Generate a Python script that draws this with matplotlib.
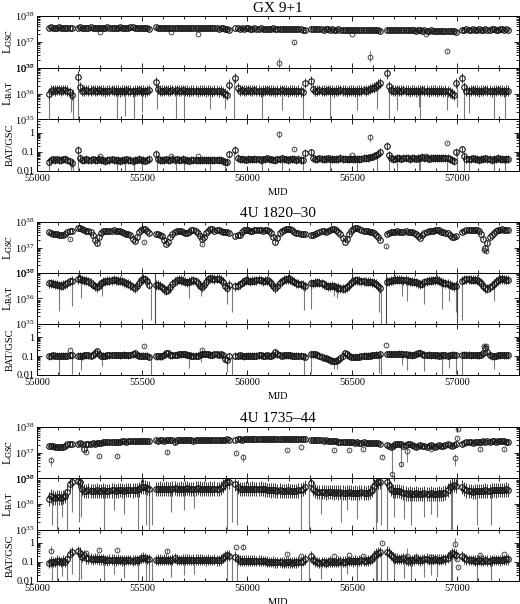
import numpy as np
import matplotlib
matplotlib.use('Agg')
import matplotlib.pyplot as plt
from matplotlib.ticker import MultipleLocator, FixedLocator, FixedFormatter, NullFormatter

plt.rcParams['font.family'] = ['Liberation Serif', 'DejaVu Serif']
plt.rcParams['mathtext.fontset'] = 'stix'

nan = np.nan

# 10-day sampling of the light curves, MJD 55055 ... 57245 (nan = Sun gap)
mjd = np.arange(55055, 57246, 10)

names = ['GX 9+1', '4U 1820\u201330', '4U 1735\u201344']

# ---- GX 9+1 : GSC in 1e37 erg/s, BAT in 1e36 erg/s
gx_gsc = [3.5, 3.6, 3.5, 3.4, 3.5, 3.6, 3.5, 3.5, 3.4, 3.5, 3.5, 3.4,
          nan, nan,
          3.5, 3.6, 3.5, 3.5, 3.4, 3.5, 3.6, 3.5, 3.5, 3.4, 3.3, 3.4, 3.5, 3.5, 3.6, 3.5, 3.5, 3.4,
          3.5, 3.5, 3.6, 3.5, 3.4, 3.5, 3.5, 3.6, 3.6, 3.5, 3.5, 3.4, 3.5, 3.5, 3.4, 3.3, 3.2,
          nan, nan,
          3.6, 3.5, 3.5, 3.4, 3.5, 3.5, 3.4, 3.5, 3.4, 3.4, 3.5, 3.4, 3.3, 3.4, 3.4, 3.5, 3.4, 3.3,
          3.4, 3.4, 3.3, 3.4, 3.4, 3.3, 3.3, 3.4, 3.3, 3.3, 3.4, 3.3, 3.2, 3.3, 3.3, 3.2, 3.1, 3.0,
          nan, nan,
          3.3, 3.3, 3.2, 3.3, 3.2, 3.3, 3.3, 3.2, 3.2, 3.3, 3.2, 3.2, 3.3, 3.2, 3.2, 3.1, 3.2,
          3.2, 3.3, 3.2, 3.2, 3.2, 3.1, 3.2, 3.2, 3.1, 3.2, 3.1, 3.1, 3.2, 3.1, 3.1, 3.0, 2.9,
          nan, nan,
          3.2, 3.1, 3.1, 3.2, 3.1, 3.1, 3.0, 3.1, 3.1, 3.0, 3.1, 3.0, 3.0, 3.1, 3.0, 3.0, 2.9,
          3.0, 3.0, 2.9, 3.0, 2.9, 2.9, 3.0, 2.9, 2.9, 2.8, 2.9, 2.9, 2.8, 2.8, 2.9, 2.8, 2.7,
          nan, nan,
          3.0, 3.0, 2.9, 3.0, 2.9, 2.9, 2.8, 2.9, 2.9, 2.8, 2.8, 2.9, 2.8, 2.8, 2.7, 2.8, 2.8,
          2.7, 2.8, 2.7, 2.7, 2.8, 2.7, 2.7, 2.6, 2.7, 2.7, 2.6, 2.7, 2.6, 2.6, 2.7, 2.6, 2.5,
          nan, nan,
          3.0, 3.0, 3.1, 3.0, 3.0, 3.1, 3.0, 3.0, 3.1, 3.0, 3.0, 3.1, 3.0, 3.0, 3.1, 3.1, 3.0,
          3.0, 3.1, 3.1, 3.0, 3.1, 3.0]
gx_bat = [1.0, 1.3, 1.4, 1.3, 1.4, 1.4, 1.3, 1.4, 1.4, 1.3, 1.1, 0.9,
          nan, nan,
          4.5, 1.8, 1.3, 1.3, 1.4, 1.3, 1.3, 1.4, 1.3, 1.3, 1.4, 1.3, 1.3, 1.2, 1.3, 1.3, 1.4, 1.3,
          1.3, 1.3, 1.2, 1.3, 1.3, 1.4, 1.3, 1.3, 1.2, 1.3, 1.3, 1.4, 1.3, 1.3, 1.2, 1.3, 1.4,
          nan, nan,
          2.8, 1.5, 1.3, 1.3, 1.3, 1.4, 1.3, 1.3, 1.4, 1.3, 1.4, 1.3, 1.3, 1.4, 1.3, 1.3, 1.2, 1.3,
          1.3, 1.3, 1.2, 1.3, 1.3, 1.3, 1.2, 1.3, 1.3, 1.2, 1.3, 1.3, 1.2, 1.3, 1.1, 1.0, 0.9, 2.2,
          nan, nan,
          4.0, 1.6, 1.3, 1.4, 1.3, 1.3, 1.4, 1.3, 1.3, 1.4, 1.3, 1.3, 1.2, 1.3, 1.3, 1.4, 1.3,
          1.3, 1.3, 1.2, 1.3, 1.3, 1.4, 1.3, 1.3, 1.2, 1.3, 1.3, 1.3, 1.2, 1.3, 1.2, 1.1, 2.5,
          nan, nan,
          3.0, 1.5, 1.3, 1.3, 1.4, 1.3, 1.3, 1.3, 1.4, 1.3, 1.3, 1.2, 1.3, 1.3, 1.4, 1.3, 1.3,
          1.2, 1.3, 1.3, 1.3, 1.2, 1.3, 1.3, 1.3, 1.4, 1.3, 1.4, 1.5, 1.6, 1.7, 1.9, 2.2, 2.6,
          nan, nan,
          6.0, 2.0, 1.4, 1.3, 1.3, 1.4, 1.3, 1.3, 1.4, 1.3, 1.3, 1.2, 1.3, 1.3, 1.2, 1.3, 1.3,
          1.4, 1.3, 1.3, 1.2, 1.3, 1.3, 1.3, 1.2, 1.3, 1.3, 1.2, 1.3, 1.2, 1.1, 1.0, 0.9, 2.5,
          nan, nan,
          4.0, 1.8, 1.3, 1.2, 1.3, 1.4, 1.3, 1.3, 1.2, 1.3, 1.3, 1.4, 1.3, 1.3, 1.2, 1.3, 1.3,
          1.4, 1.3, 1.3, 1.2, 1.3, 1.3]
gx_out_t = [55302, 55640, 55767, 56150, 56225, 56500, 56587, 56850, 56950]
gx_out_v = [2.3, 2.3, 2.0, 0.15, 0.95, 2.0, 0.27, 2.1, 0.45]
gx_out_lo = [2.3, 2.3, 2.0, 0.10, 0.85, 2.0, 0.17, 2.1, 0.40]
gx_out_hi = [2.3, 2.3, 2.0, 0.24, 1.05, 2.0, 0.45, 2.1, 0.50]
gx_spk_t = [55055, 55160, 55170, 55197, 55380, 55420, 55460, 55463, 55500, 55570,
            55660, 55700, 55826, 55895, 55937, 56071, 56167, 56267, 56397, 56524,
            56620, 56674, 56714, 56817, 56825, 56952, 57000, 57032, 57055, 57174, 57230]
gx_spk_lo = [0.06, 0.2, 0.06, 0.06, 0.06, 0.13, 0.06, 0.3, 0.2, 0.25,
             0.06, 0.06, 0.25, 0.25, 0.06, 0.06, 0.22, 0.06, 0.06, 0.22,
             0.25, 0.06, 0.22, 0.3, 0.06, 0.22, 0.3, 0.06, 0.18, 0.08, 0.06]

# ---- 4U 1820-30
r1820_gsc = [4.0, 3.8, 3.5, 3.4, 3.3, 3.2, 3.1, 3.2, 3.4, 3.9, 4.3, 4.6,
             nan, nan,
             5.6, 5.8, 5.5, 4.8, 4.5, 4.4, 4.0, 3.0, 2.0, 1.5, 2.5, 3.8, 4.3, 4.5, 4.6, 4.5, 4.6, 4.7,
             4.6, 4.4, 4.5, 4.2, 3.8, 3.5, 3.5, 3.0, 2.2, 1.8, 2.6, 4.0, 5.0, 5.5, 5.3, 4.5, 3.7,
             nan, nan,
             3.4, 3.4, 3.2, 2.8, 2.0, 1.4, 1.6, 2.6, 3.5, 4.0, 4.3, 4.4, 4.3, 3.9, 3.7, 3.8, 4.2, 4.7,
             5.0, 4.6, 3.8, 2.8, 2.1, 2.6, 3.6, 4.6, 5.3, 5.2, 4.6, 4.8, 5.0, 4.5, 4.0, 4.2, 4.1, 3.6,
             nan, nan,
             2.8, 3.0, 3.2, 4.0, 4.8, 5.0, 4.8, 4.5, 4.6, 4.7, 4.9, 5.0, 4.8, 4.5, 4.7, 4.8, 4.5,
             3.8, 2.5, 1.6, 2.4, 3.6, 4.5, 5.0, 5.2, 5.3, 5.2, 4.7, 4.2, 3.8, 3.6, 3.5, 3.4, 3.3,
             nan, nan,
             3.2, 3.2, 3.3, 3.6, 4.0, 4.3, 4.4, 4.2, 4.5, 5.0, 5.5, 5.5, 5.0, 4.2, 3.3, 2.3, 1.7,
             2.2, 3.3, 4.5, 5.3, 5.8, 5.8, 5.3, 4.8, 4.5, 4.3, 4.4, 4.2, 4.0, 3.7, 3.2, 2.6, 2.0,
             nan, nan,
             3.5, 3.7, 3.9, 4.0, 4.2, 4.3, 4.2, 4.0, 4.1, 4.3, 4.2, 4.0, 4.1, 3.8, 3.3, 2.8, 2.4,
             3.0, 3.8, 4.2, 4.3, 4.5, 4.6, 4.8, 5.0, 4.7, 4.2, 3.9, 3.7, 3.6, 3.2, 2.7, 2.5, 2.8,
             nan, nan,
             4.2, 4.6, 4.8, 4.8, 4.9, 4.7, 4.8, 4.7, 4.3, 3.5, 2.2, 1.0, 1.5, 2.5, 3.2, 3.8, 4.4,
             4.8, 5.0, 5.1, 5.0, 4.9, 4.8]
r1820_bat = [4.0, 4.0, 3.8, 3.6, 3.5, 3.3, 3.2, 3.4, 3.6, 4.0, 4.8, 5.0,
             nan, nan,
             5.8, 6.0, 5.5, 5.2, 5.0, 4.8, 4.2, 3.5, 3.0, 2.8, 3.2, 4.0, 4.5, 4.8, 5.0, 5.0, 5.2, 5.4,
             5.2, 5.0, 5.0, 4.8, 4.4, 4.0, 3.8, 3.4, 2.8, 2.5, 3.0, 4.2, 5.2, 5.8, 5.6, 4.8, 3.5,
             nan, nan,
             3.4, 3.4, 3.2, 2.8, 2.3, 2.0, 2.2, 2.8, 3.8, 4.6, 5.2, 5.4, 5.3, 5.0, 4.6, 4.4, 4.6, 5.0,
             5.2, 4.8, 4.0, 3.2, 2.8, 3.4, 4.6, 5.6, 6.2, 6.0, 5.8, 6.0, 6.0, 5.5, 4.6, 3.0, 2.5, 3.5,
             nan, nan,
             3.0, 3.2, 3.6, 4.2, 4.8, 5.2, 5.0, 4.8, 4.9, 5.0, 5.2, 5.4, 5.2, 4.8, 5.0, 5.2, 4.8,
             4.0, 3.0, 2.5, 3.0, 4.0, 4.8, 5.4, 5.6, 5.8, 5.6, 5.0, 4.5, 4.0, 3.8, 3.6, 3.4, 3.0,
             nan, nan,
             4.0, 4.0, 4.2, 4.3, 4.2, 4.0, 3.6, 3.2, 3.0, 3.0, 3.2, 3.0, 2.8, 2.6, 2.5, 2.4, 2.5,
             2.8, 3.4, 4.2, 4.8, 5.2, 5.2, 5.0, 4.8, 4.7, 4.6, 4.6, 4.5, 4.4, 4.2, 3.8, 3.0, 2.5,
             nan, nan,
             4.5, 4.8, 5.0, 5.2, 5.4, 5.5, 5.5, 5.4, 5.2, 5.3, 5.0, 4.8, 4.6, 4.5, 4.3, 4.0, 3.6,
             3.8, 4.4, 4.8, 5.0, 5.0, 5.2, 5.2, 5.4, 5.0, 4.6, 4.2, 4.0, 3.8, 3.5, 3.2, 3.0, 3.2,
             nan, nan,
             5.0, 5.4, 5.6, 5.6, 5.5, 5.4, 5.5, 5.3, 4.8, 4.0, 3.2, 2.6, 2.4, 2.8, 3.2, 3.8, 4.5,
             5.2, 5.6, 5.8, 5.6, 5.5, 5.4]
r1820_out_t = [55158, 55508, 55786, 56664, 57130, 57140]
r1820_out_v = [2.2, 1.64, 1.37, 1.1, 0.8, 0.7]
r1820_out_lo = [2.0, 1.5, 1.25, 1.0, 0.7, 0.6]
r1820_out_hi = [2.4, 1.8, 1.5, 1.2, 0.9, 0.8]
r1820_spk_t = [55105, 55168, 55208, 55311, 55541, 55724, 55779, 55906, 55930, 56271,
               56303, 56414, 56430, 56630, 56636, 56740, 56764, 56843, 56930, 56962,
               56994, 57025, 57176]
r1820_spk_lo = [0.33, 0.5, 1.0, 1.3, 0.15, 1.0, 1.2, 0.6, 0.3, 0.35,
                0.4, 1.2, 1.0, 0.3, 0.05, 1.3, 0.8, 0.6, 0.4, 0.8,
                0.3, 0.15, 0.8]
r1820_line_t = [55562, 56664, 57002]

# ---- 4U 1735-44
r1735_gsc = [1.8, 1.9, 1.8, 1.7, 1.6, 1.6, 1.7, 1.6, 1.9, 2.1, 2.2, 2.2,
             nan, nan,
             2.2, 2.3, 2.2, 1.4, 2.1, 2.2, 2.2, 2.3, 2.2, 2.3, 2.3, 2.4, 2.5, 2.6, 2.6, 2.5, 2.6, 2.6,
             2.7, 2.6, 2.7, 2.8, 2.8, 2.7, 2.8, 2.8, 2.9, 2.8, 2.8, 2.9, 2.8, 2.9, 2.8, 2.9, 2.9,
             nan, nan,
             3.0, 2.9, 3.0, 3.0, 2.9, 3.0, 3.1, 3.0, 3.0, 2.5, 3.0, 3.0, 3.1, 3.0, 3.0, 3.1, 3.0, 3.0,
             2.9, 3.0, 3.1, 3.0, 3.0, 3.1, 3.1, 3.0, 3.1, 3.1, 3.0, 3.1, 3.2, 3.2, 3.1, 3.2, 3.3, 3.2,
             nan, nan,
             3.2, 3.3, 3.3, 3.2, 3.3, 3.4, 3.3, 3.3, 3.4, 3.3, 3.4, 3.3, 3.4, 3.4, 3.3, 3.4, 3.5,
             3.4, 3.4, 3.5, 3.5, 3.4, 3.5, 3.5, 3.4, 3.5, 3.4, 3.5, 3.4, 3.4, 3.3, 3.4, 3.3, 3.3,
             nan, nan,
             3.2, 3.1, 3.0, 3.0, 3.1, 3.0, 2.9, 3.0, 2.9, 2.8, 2.9, 2.8, 2.8, 2.7, 2.6, 2.7, 2.6,
             2.5, 2.6, 2.5, 2.5, 2.4, 2.5, 2.4, 2.4, 2.5, 2.4, 2.3, 2.4, 2.4, 2.3, 2.4, 2.3, 2.2,
             nan, nan,
             2.0, 1.8, 1.6, 1.9, 2.1, 2.2, 2.2, 2.1, 1.8, 2.0, 2.2, 2.1, 2.0, 1.9, 1.7, 1.9, 2.0,
             1.9, 1.8, 1.6, 1.9, 2.0, 1.9, 1.7, 1.9, 2.0, 1.9, 1.8, 2.0, 2.1, 2.0, 1.8, 2.0, 2.1,
             nan, nan,
             2.2, 2.4, 2.5, 2.6, 2.5, 2.4, 2.6, 2.7, 2.6, 2.7, 2.8, 2.7, 2.8, 2.7, 2.8, 2.8, 2.7,
             2.8, 2.9, 2.8, 2.8, 2.7, 2.6]
r1735_bat = [1.6, 2.0, 1.8, 1.7, 1.9, 1.8, 1.7, 1.9, 2.0, 3.0, 6.0, 7.5,
             nan, nan,
             8.0, 7.0, 4.0, 3.2, 3.3, 3.4, 3.3, 3.2, 3.3, 3.4, 3.2, 3.3, 3.4, 3.3, 3.2, 3.3, 3.4, 3.5,
             3.3, 3.4, 3.5, 3.4, 3.3, 3.5, 3.6, 3.5, 3.4, 3.6, 3.5, 3.7, 4.5, 4.8, 4.5, 4.2, 4.0,
             nan, nan,
             3.8, 3.9, 4.0, 3.8, 3.9, 4.0, 3.9, 3.8, 4.0, 4.1, 3.9, 3.8, 4.0, 3.9, 4.0, 4.1, 3.9, 3.8,
             3.9, 4.0, 4.1, 4.0, 3.9, 4.0, 3.8, 3.9, 4.0, 3.9, 4.0, 3.8, 3.9, 4.2, 5.0, 6.5, 7.5, 7.0,
             nan, nan,
             6.0, 4.5, 3.9, 3.8, 3.9, 4.0, 3.8, 3.9, 4.0, 3.9, 3.8, 3.9, 4.0, 3.8, 3.7, 3.6, 3.5,
             3.4, 3.5, 3.4, 3.3, 3.4, 3.3, 3.2, 3.3, 3.4, 3.3, 3.2, 3.3, 3.3, 3.4, 3.5, 3.8, 4.5,
             nan, nan,
             6.5, 4.0, 3.2, 3.0, 2.9, 3.0, 2.9, 2.8, 2.9, 3.0, 2.9, 2.8, 2.9, 2.8, 2.9, 2.8, 2.7,
             2.8, 2.9, 2.8, 2.7, 2.8, 2.7, 2.8, 2.9, 2.8, 2.7, 2.8, 3.0, 3.5, 5.0, 6.5, 7.0, 7.5,
             nan, nan,
             7.0, 5.5, 3.8, 3.3, 3.2, 3.3, 3.2, 3.0, 2.8, 2.6, 2.5, 2.6, 2.4, 2.5, 2.6, 2.5, 2.4,
             2.5, 2.6, 2.4, 2.5, 2.6, 2.5, 2.4, 2.5, 2.6, 2.5, 2.6, 2.8, 3.5, 4.5, 5.2, 5.5, 5.0,
             nan, nan,
             4.5, 3.8, 3.4, 3.3, 3.2, 3.0, 3.1, 3.2, 3.3, 3.2, 3.3, 3.4, 3.3, 3.2, 3.4, 3.5, 3.4,
             3.5, 3.6, 3.5, 3.6, 3.7, 3.6]
r1735_out_t = [55065, 55232, 55295, 55382, 55620, 55946, 55982, 56192, 56255, 56414,
               56485, 56550, 56644, 56760, 56876, 56990, 57000, 57005, 57110, 57223]
r1735_out_v = [0.5, 1.1, 0.73, 0.77, 1.05, 1.0, 0.67, 1.3, 1.6, 1.3,
               1.3, 1.4, 0.7, 1.2, 1.4, 0.6, 3.6, 8.5, 1.4, 1.4]
r1735_out_lo = [0.3, 1.0, 0.65, 0.7, 0.85, 0.9, 0.45, 1.2, 1.5, 1.2,
                1.2, 1.3, 0.62, 0.45, 1.3, 0.3, 3.3, 7.5, 1.3, 1.3]
r1735_out_hi = [0.7, 1.2, 0.8, 0.85, 1.3, 1.1, 0.85, 1.4, 1.7, 1.4,
                1.4, 1.5, 0.8, 1.5, 1.5, 0.9, 3.9, 9.5, 1.5, 1.5]
r1735_spk_t = [55073, 55097, 55120, 55144, 55165, 55200, 55208, 55319, 55366, 55414,
               55481, 55517, 55533, 55549, 55636, 55700, 55747, 55906, 55930, 55954,
               56255, 56295, 56350, 56446, 56477, 56525, 56612, 56620, 56636, 56668,
               56700, 56747, 56779, 56842, 56875, 56906, 56970, 56977, 57096, 57160]
r1735_spk_lo = [0.15, 0.1, 0.3, 0.05, 0.5, 0.2, 0.3, 0.05, 0.6, 0.4,
                0.05, 0.15, 0.1, 0.15, 0.5, 0.6, 0.7, 0.05, 0.2, 0.15,
                0.05, 0.05, 0.4, 0.2, 0.6, 0.25, 0.05, 0.2, 0.15, 0.05,
                0.3, 0.25, 0.15, 0.3, 0.4, 0.3, 0.07, 0.05, 0.15, 0.15]
r1735_gspk_t = [56692, 56731]
r1735_gspk_lo = [0.11, 0.27]

# typical half-size of the error bars (dex) read from the bands
gsc_err = [0.05, 0.06, 0.08]
bat_err = [0.2, 0.18, 0.28]

sources = [
    dict(gsc=gx_gsc, bat=gx_bat, out=(gx_out_t, gx_out_v, gx_out_lo, gx_out_hi),
         spk=(gx_spk_t, gx_spk_lo), gspk=([], []), lines=[]),
    dict(gsc=r1820_gsc, bat=r1820_bat, out=(r1820_out_t, r1820_out_v, r1820_out_lo, r1820_out_hi),
         spk=(r1820_spk_t, r1820_spk_lo), gspk=([], []), lines=r1820_line_t),
    dict(gsc=r1735_gsc, bat=r1735_bat, out=(r1735_out_t, r1735_out_v, r1735_out_lo, r1735_out_hi),
         spk=(r1735_spk_t, r1735_spk_lo), gspk=(r1735_gspk_t, r1735_gspk_lo), lines=[]),
]

W, H = 520.0, 604.0
x0, x1 = 37, 519
group_top = [16, 222, 427]
group_bot = [171, 375, 581]

MEC = '#151515'
ECOL = '#3a3a3a'
SPK = '#7a7a7a'
band_kw = dict(fmt='o', ms=4.0, mfc='none', mec=MEC, mew=0.8, ecolor=ECOL,
               elinewidth=0.7, capsize=0)
out_kw = dict(fmt='o', ms=3.4, mfc='none', mec='#444444', mew=0.7, ecolor=SPK,
              elinewidth=0.7, capsize=0)


def style(ax):
    ax.set_xlim(55000, 57295)
    ax.xaxis.set_major_locator(MultipleLocator(500))
    ax.xaxis.set_minor_locator(MultipleLocator(100))
    ax.tick_params(which='both', direction='in', top=True, right=True,
                   labelsize=7.5, width=0.6, pad=2)
    ax.tick_params(which='major', length=3.5)
    ax.tick_params(which='minor', length=2)
    for s in ax.spines.values():
        s.set_linewidth(0.7)


def yerr(y, dex):
    return [y * (1 - 10 ** -dex), y * (10 ** dex - 1)]


fig = plt.figure(figsize=(W / 100, H / 100), dpi=100)

for g, src in enumerate(sources):
    gsc = np.array(src['gsc'], dtype=float)
    bat = np.array(src['bat'], dtype=float)
    assert len(gsc) == len(mjd) and len(bat) == len(mjd)
    ok = ~np.isnan(gsc)
    ratio = bat * 1e36 / (gsc * 1e37)

    h = (group_bot[g] - group_top[g]) / 3.0
    axs = []
    for k in range(3):
        top = group_top[g] + k * h
        ax = fig.add_axes([x0 / W, 1 - (top + h) / H, (x1 - x0) / W, h / H])
        style(ax)
        ax.set_yscale('log')
        axs.append(ax)
    ax_g, ax_b, ax_r = axs

    # GSC
    ot, ov, olo, ohi = [np.array(a, dtype=float) for a in src['out']]
    ax_g.errorbar(ot, ov * 1e37, yerr=[(ov - olo) * 1e37, (ohi - ov) * 1e37], **out_kw)
    gt, glo = [np.array(a, dtype=float) for a in src['gspk']]
    if len(gt):
        ax_g.vlines(gt, glo * 1e37, np.interp(gt, mjd[ok], gsc[ok]) * 1e37, color=SPK, lw=0.8)
        ax_g.plot(gt, glo * 1e37 * 1.3, 'o', ms=3.2, mfc='none', mec='#444444', mew=0.7)
    ax_g.errorbar(mjd, gsc * 1e37, yerr=yerr(gsc * 1e37, gsc_err[g]), **band_kw)
    ax_g.set_ylim(1e36, 1e38)

    # BAT
    st, slo = [np.array(a, dtype=float) for a in src['spk']]
    s_top = np.interp(st, mjd[ok], bat[ok])
    ax_b.vlines(st, slo * 1e36, s_top * 1e36, color=SPK, lw=0.8)
    for lt in src['lines']:
        ax_b.axvline(lt, color='#444444', lw=0.8)
    ax_b.errorbar(mjd, bat * 1e36, yerr=yerr(bat * 1e36, bat_err[g]), **band_kw)
    ax_b.set_ylim(1e35, 1e37)

    # BAT/GSC
    o_bat = np.interp(ot, mjd[ok], bat[ok])
    o_ratio = o_bat / (ov * 10)
    r_lo = np.clip(o_ratio - o_bat / (ohi * 10), 0, None)
    r_hi = np.clip(o_bat / (olo * 10) - o_ratio, 0, None)
    ax_r.errorbar(ot, o_ratio, yerr=[r_lo, r_hi], **out_kw)
    s_gsc = np.interp(st, mjd[ok], gsc[ok])
    ax_r.vlines(st, slo / (s_gsc * 10), s_top / (s_gsc * 10), color=SPK, lw=0.8)
    ax_r.errorbar(mjd, ratio, yerr=yerr(ratio, bat_err[g]), **band_kw)
    ax_r.set_ylim(0.01, 5)
    ax_r.yaxis.set_major_locator(FixedLocator([0.01, 0.1, 1]))
    ax_r.yaxis.set_major_formatter(FixedFormatter(['0.01', '0.1', '1']))
    ax_r.yaxis.set_minor_formatter(NullFormatter())

    for ax in (ax_g, ax_b):
        ax.tick_params(labelbottom=False)

    ax_g.set_ylabel(r'L$_{\rm GSC}$', fontsize=8.5)
    ax_b.set_ylabel(r'L$_{\rm BAT}$', fontsize=8.5)
    ax_r.set_ylabel('BAT/GSC', fontsize=7.5)
    for ax in axs:
        ax.yaxis.set_label_coords(-0.046, 0.5)
    ax_r.set_xlabel('MJD', fontsize=7.5, labelpad=4)

    fig.text((x0 + x1) / 2 / W, 1 - (group_top[g] - 8) / H, names[g],
             ha='center', va='center', fontsize=11)

fig.savefig('out.png', dpi=100)
